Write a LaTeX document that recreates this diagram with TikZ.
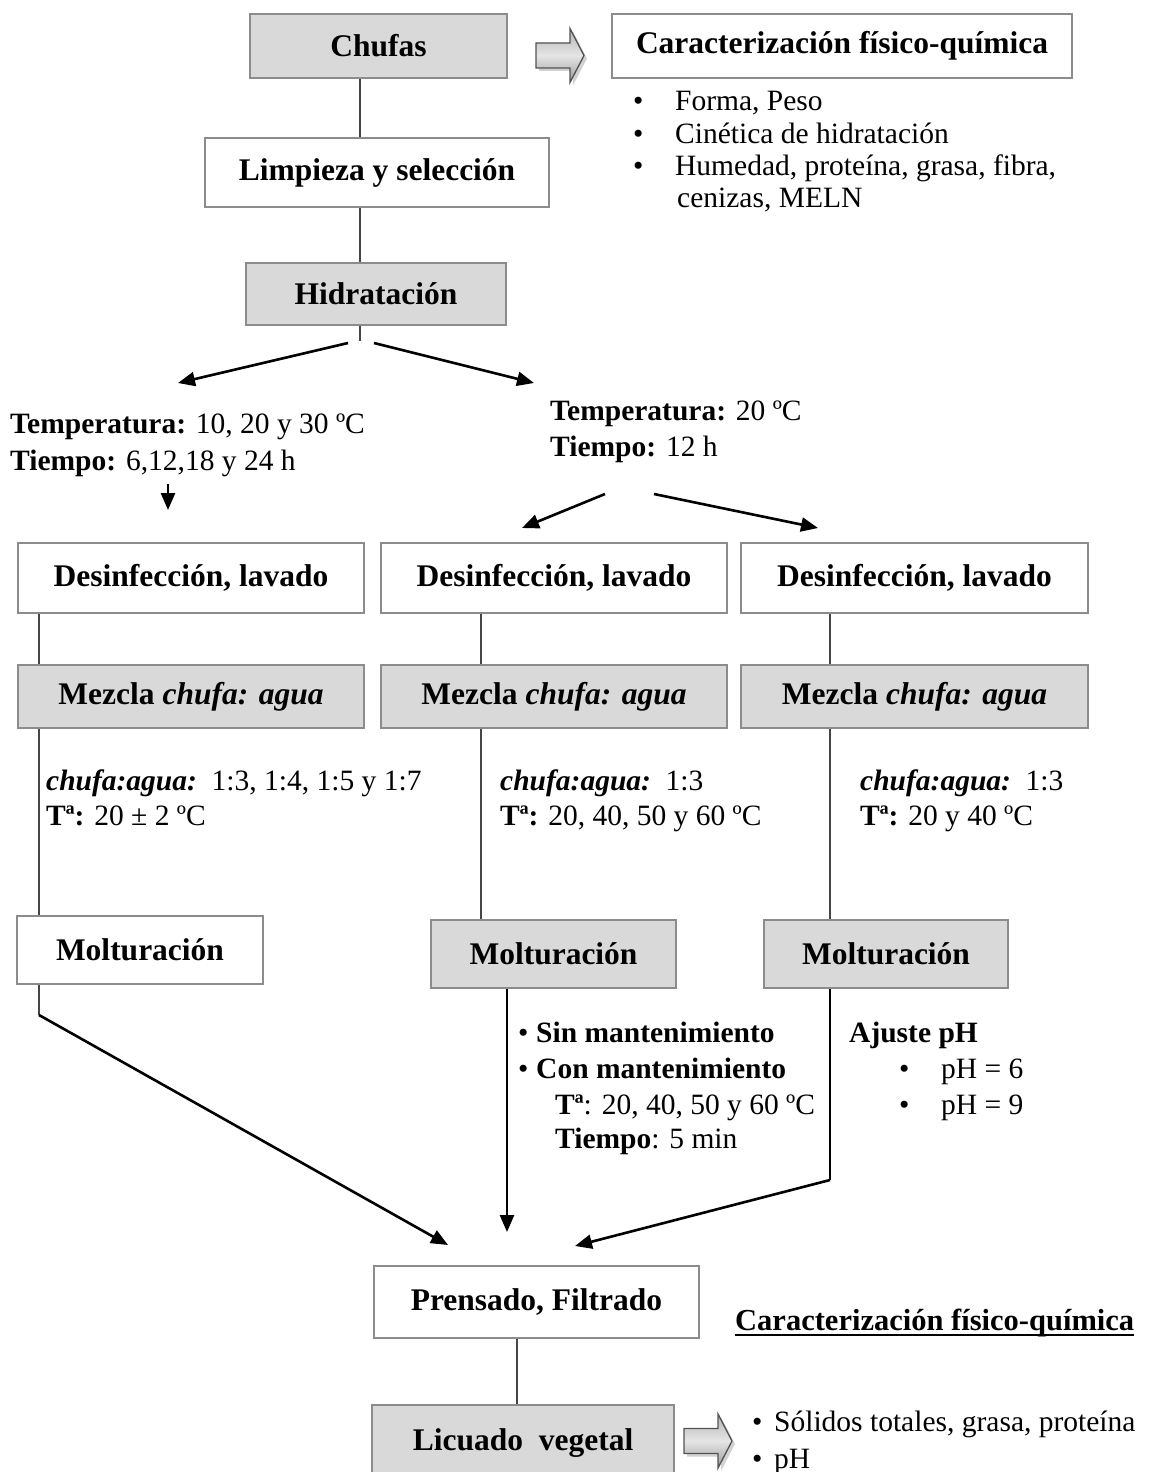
\documentclass[tikz,border=0pt]{standalone}
\usepackage{fontspec}
\setmainfont{Liberation Serif}
\usetikzlibrary{arrows.meta,calc}

\definecolor{boxfill}{RGB}{217,217,217}
\definecolor{boxline}{RGB}{140,140,140}
\definecolor{linkgray}{RGB}{70,70,70}

\newcommand\regfont{\fontsize{29.5}{33}\selectfont}
\newcommand\boxfont{\fontsize{31.5}{34}\selectfont\bfseries}

\begin{document}
\begin{tikzpicture}[x=1pt,y=-1pt,
  box/.style={draw=boxline, line width=1.8pt, inner sep=0pt, font=\boxfont},
  greybox/.style={box, fill=boxfill},
  whitebox/.style={box, fill=white},
  link/.style={draw=linkgray, line width=1.3pt},
  flow/.style={draw=black, line width=2.6pt, -{Triangle[length=17pt,width=14pt]}},
  lbl/.style={anchor=base west, inner sep=0pt, font=\regfont},
  fatarrow/.pic={
    \fill[gray!35] (3,-9.5) -- (37,-9.5) -- (37,-24) -- (51,3) -- (37,30) -- (37,15.5) -- (3,15.5) -- cycle;
    \shadedraw[top color=gray!60, bottom color=gray!80, middle color=gray!20, draw=gray!65!black, line width=1.3pt]
      (0,-12.5) -- (34,-12.5) -- (34,-27) -- (48,0) -- (34,27) -- (34,12.5) -- (0,12.5) -- cycle;
  }]

\fill[white] (0,0) rectangle (1149,1472);
\useasboundingbox (0,0) rectangle (1149,1472);

% column positions of the vertical connectors
\coordinate (cA) at (360,0);
\coordinate (cL) at (39,0);
\coordinate (cM) at (481,0);
\coordinate (cR) at (830,0);
\coordinate (cMb) at (507,0);
\coordinate (cP) at (517,0);

% raw material and its characterisation
\node[greybox, minimum width=257pt, minimum height=64pt] (chufas) at (378.5,46) {Chufas};
\pic at (536,55.5) {fatarrow};
\node[whitebox, minimum width=460pt, minimum height=64pt] (caract) at (842,46) {Caracterización físico-química};

\node[lbl] (prop1) at (633,110) {\makebox[42pt][l]{•}Forma, Peso};
\node[lbl] (prop2) at (633,143) {\makebox[42pt][l]{•}Cinética de hidratación};
\node[lbl] (prop3) at (633,175) {\makebox[42pt][l]{•}Humedad, proteína, grasa, fibra,};
\node[lbl] (prop4) at (677,207) {cenizas, MELN};

% cleaning and hydration
\node[whitebox, minimum width=344pt, minimum height=69pt] (limp) at (377,172.5) {Limpieza y selección};
\node[greybox, minimum width=260pt, minimum height=62pt] (hidra) at (376,294) {Hidratación};

\draw[link] (chufas.south -| cA) -- (limp.north -| cA);
\draw[link] (limp.south -| cA) -- (hidra.north -| cA);
\coordinate (tick) at (360,341);
\draw[link] (hidra.south -| cA) -- (tick);

\coordinate (hL) at (348,343);
\coordinate (hR) at (374,343);
\coordinate (tL) at (178,383);
\coordinate (tR) at (534,383);
\draw[flow] (hL) -- (tL);
\draw[flow] (hR) -- (tR);

% hydration conditions
\node[lbl] (condLa) at (10,433) {\textbf{Temperatura:} 10, 20 y 30 ºC};
\node[lbl] (condLb) at (10,470) {\textbf{Tiempo:} 6,12,18 y 24 h};
\node[lbl] (condRa) at (550,420) {\textbf{Temperatura:} 20 ºC};
\node[lbl] (condRb) at (550,456) {\textbf{Tiempo:} 12 h};

\coordinate (dA) at (168,484);
\coordinate (dB) at (168,510);
\draw[flow] (dA) -- (dB);

\coordinate (sL) at (605,494);
\coordinate (sR) at (654,494);
\coordinate (eL) at (522,528);
\coordinate (eR) at (818,528);
\draw[flow] (sL) -- (eL);
\draw[flow] (sR) -- (eR);

% three processing lines
\node[whitebox, minimum width=346pt, minimum height=70pt] (des1) at (191,578) {Desinfección, lavado};
\node[whitebox, minimum width=346pt, minimum height=70pt] (des2) at (554,578) {Desinfección, lavado};
\node[whitebox, minimum width=347pt, minimum height=70pt] (des3) at (914.5,578) {Desinfección, lavado};

\node[greybox, minimum width=346pt, minimum height=63pt] (mez1) at (191,696.5) {Mezcla \textit{chufa: agua}};
\node[greybox, minimum width=346pt, minimum height=63pt] (mez2) at (554,696.5) {Mezcla \textit{chufa: agua}};
\node[greybox, minimum width=347pt, minimum height=63pt] (mez3) at (914.5,696.5) {Mezcla \textit{chufa: agua}};

\draw[link] (des1.south -| cL) -- (mez1.north -| cL);
\draw[link] (des2.south -| cM) -- (mez2.north -| cM);
\draw[link] (des3.south -| cR) -- (mez3.north -| cR);

\node[lbl] (mixLa) at (46,790) {\textbf{\textit{chufa:agua:}}\ \ 1:3, 1:4, 1:5 y 1:7};
\node[lbl] (mixLb) at (46,825) {\textbf{Tª:} 20 ± 2 ºC};
\node[lbl] (mixMa) at (500,790) {\textbf{\textit{chufa:agua:}}\ \ 1:3};
\node[lbl] (mixMb) at (500,825) {\textbf{Tª:} 20, 40, 50 y 60 ºC};
\node[lbl] (mixRa) at (860,790) {\textbf{\textit{chufa:agua:}}\ \ 1:3};
\node[lbl] (mixRb) at (860,825) {\textbf{Tª:} 20 y 40 ºC};

\node[whitebox, minimum width=246pt, minimum height=68pt] (molt1) at (140,950) {Molturación};
\node[greybox, minimum width=245pt, minimum height=68pt] (molt2) at (553.5,954) {Molturación};
\node[greybox, minimum width=244pt, minimum height=68pt] (molt3) at (886,954) {Molturación};

\draw[link] (mez1.south -| cL) -- (molt1.north -| cL);
\draw[link] (mez2.south -| cM) -- (molt2.north -| cM);
\draw[link] (mez3.south -| cR) -- (molt3.north -| cR);

% conditions after milling
\node[lbl] (optA) at (518,1042) {\makebox[18pt][l]{•}\textbf{Sin mantenimiento}};
\node[lbl] (optB) at (518,1078) {\makebox[18pt][l]{•}\textbf{Con mantenimiento}};
\node[lbl] (optC) at (555,1114) {\textbf{Tª}: 20, 40, 50 y 60 ºC};
\node[lbl] (optD) at (555,1148) {\textbf{Tiempo}: 5 min};

\node[lbl] (phA) at (849,1042) {\textbf{Ajuste pH}};
\node[lbl] (phB) at (899,1078) {\makebox[42pt][l]{•}pH = 6};
\node[lbl] (phC) at (899,1114) {\makebox[42pt][l]{•}pH = 9};

% converging flows
\coordinate (bendL) at (39,1015);
\coordinate (tipL) at (448,1245);
\draw[link] (molt1.south -| cL) -- (bendL);
\draw[flow] (bendL) -- (tipL);

\coordinate (tipM) at (507,1232);
\draw[flow] (molt2.south -| cMb) -- (tipM);

\coordinate (bendR) at (830,1180);
\coordinate (tipR) at (575,1246);
\draw[line width=2pt] (molt3.south -| cR) -- (bendR);
\draw[flow] (bendR) -- (tipR);

% pressing and final product
\node[whitebox, minimum width=325pt, minimum height=72pt] (prens) at (536.5,1302) {Prensado, Filtrado};
\node[greybox, minimum width=302pt, minimum height=76pt] (licu) at (523,1443) {Licuado\ \ vegetal};
\draw[link] (prens.south -| cP) -- (licu.north -| cP);

\pic at (684,1441) {fatarrow};

\node[lbl, font=\bfseries\fontsize{30.5}{33}\selectfont] (head) at (735,1330) {Caracterización físico-química};
\draw[line width=1.4pt] ($(head.base west)+(0,5)$) -- ($(head.base east)+(0,5)$);
\node[lbl] (resA) at (752,1431) {\makebox[22pt][l]{•}Sólidos totales, grasa, proteína};
\node[lbl] (resB) at (752,1468) {\makebox[22pt][l]{•}pH};

\end{tikzpicture}
\end{document}
